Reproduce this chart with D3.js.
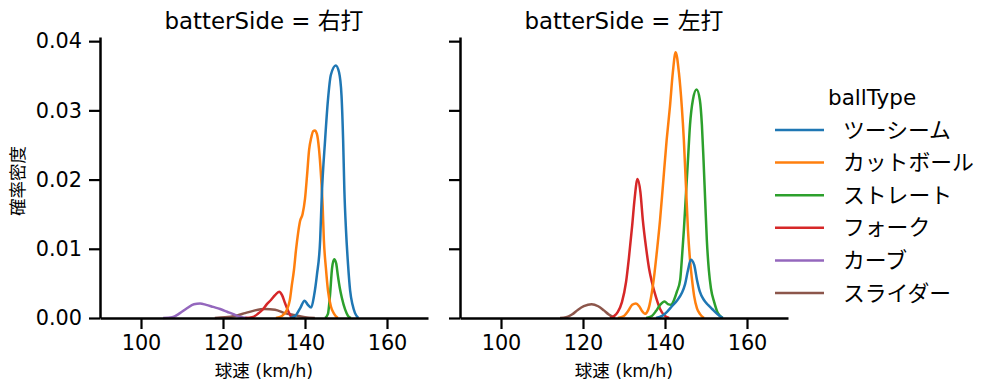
<!DOCTYPE html>
<html>
<head>
<meta charset="utf-8">
<title>球速の確率密度</title>
<script src="https://cdn.jsdelivr.net/npm/d3@7"></script>
<style>
  body { margin: 0; background: #fff; }
  text { font-family: "DejaVu Sans", "Noto Sans CJK JP", sans-serif; fill: #000; }
</style>
</head>
<body>
<script>
// categories
const ballTypes = ["ツーシーム", "カットボール", "ストレート", "フォーク", "カーブ", "スライダー"];
const palette = ["#1f77b4", "#ff7f0e", "#2ca02c", "#d62728", "#9467bd", "#8c564b"];
const sides = ["右打", "左打"];
const xTicks = [100, 120, 140, 160];
const yTicks = [0, 0.01, 0.02, 0.03, 0.04];

// [球速, 確率密度] — 右打
const migiTwoSeam = [[136.3,0],[137.6,0.0003],[138.8,0.0014],[139.9,0.0025],[140.7,0.0019],[141.5,0.0015],[142.2,0.0032],[142.9,0.0062],[143.7,0.0113],[144.1,0.0178],[144.9,0.0257],[145.6,0.0315],[146.3,0.0351],[147.5,0.0365],[148.3,0.0355],[148.9,0.0322],[149.3,0.0257],[149.6,0.0185],[150.0,0.0127],[150.5,0.0077],[151.0,0.0040],[151.6,0.0019],[152.2,0.0007],[153.0,0]];
const migiCutter = [[132.9,0],[134.4,0.0003],[135.6,0.0012],[136.3,0.0026],[136.8,0.0048],[137.3,0.0069],[137.8,0.0098],[138.3,0.0122],[138.8,0.0140],[139.4,0.0150],[140.0,0.0172],[140.5,0.0206],[141.0,0.0243],[141.5,0.0260],[142.0,0.0270],[142.4,0.0271],[142.9,0.0266],[143.4,0.0245],[143.9,0.0206],[144.3,0.0163],[144.6,0.0113],[145.1,0.0072],[145.6,0.0040],[146.3,0.0017],[147.1,0.0006],[148.0,0]];
const migiStraight = [[144.9,0],[145.6,0.0006],[146.1,0.0033],[146.6,0.0072],[147.1,0.0085],[147.6,0.0079],[148.0,0.0062],[148.5,0.0043],[149.0,0.0029],[149.8,0.0012],[150.5,0.0003],[151.2,0]];
const migiFork = [[125.4,0],[127.1,0.0001],[128.5,0.0006],[129.8,0.0013],[130.7,0.0020],[131.7,0.0026],[132.7,0.0033],[133.7,0.0038],[134.4,0.0033],[135.1,0.0022],[135.9,0.0010],[136.8,0.0001],[137.6,0]];
const migiCurve = [[105.4,0],[107.6,0.0001],[109.5,0.0007],[111.2,0.0014],[112.9,0.0020],[114.4,0.0021],[115.9,0.0019],[117.6,0.0016],[119.3,0.0013],[121.0,0.0009],[122.7,0.0005],[124.1,0.0002],[125.9,0]];
const migiSlider = [[118.0,0],[120.5,0.0001],[122.9,0.0003],[125.4,0.0007],[127.8,0.0011],[130.2,0.0013],[132.7,0.0012],[135.1,0.0007],[137.6,0.0004],[140.0,0.0001],[142.4,0]];

// 左打
const hidariTwoSeam = [[137.8,0],[139.3,0.0003],[140.5,0.0009],[141.7,0.0017],[142.9,0.0025],[144.1,0.0036],[144.9,0.0049],[145.6,0.0069],[146.3,0.0084],[147.1,0.0077],[147.8,0.0055],[148.5,0.0038],[149.5,0.0026],[150.5,0.0019],[151.5,0.0013],[152.7,0.0006],[154.1,0]];
const hidariCutter = [[128.5,0],[130.0,0.0003],[131.0,0.0010],[132.0,0.0019],[132.9,0.0021],[133.7,0.0017],[134.4,0.0010],[135.1,0.0006],[135.9,0.0012],[136.6,0.0030],[137.3,0.0058],[138.0,0.0095],[138.8,0.0142],[139.5,0.0192],[140.4,0.0257],[141.2,0.0305],[141.9,0.0354],[142.6,0.0384],[143.4,0.0354],[144.1,0.0305],[144.6,0.0257],[145.1,0.0192],[145.6,0.0127],[146.1,0.0084],[146.6,0.0055],[147.1,0.0032],[147.8,0.0014],[148.5,0.0006],[149.5,0]];
const hidariStraight = [[135.4,0],[136.8,0.0003],[137.8,0.0010],[138.8,0.0019],[139.9,0.0024],[140.7,0.0020],[141.5,0.0019],[142.2,0.0026],[142.9,0.0038],[143.7,0.0055],[144.1,0.0084],[144.6,0.0127],[145.1,0.0178],[145.6,0.0228],[146.1,0.0279],[146.8,0.0315],[147.7,0.0330],[148.5,0.0315],[149.0,0.0279],[149.4,0.0228],[149.8,0.0170],[150.2,0.0113],[150.7,0.0069],[151.2,0.0043],[152.0,0.0023],[152.9,0.0007],[154.1,0]];
const hidariFork = [[126.6,0],[127.6,0.0003],[128.5,0.0009],[129.5,0.0023],[130.5,0.0052],[131.2,0.0087],[132.0,0.0134],[132.6,0.0173],[133.3,0.0201],[134.0,0.0182],[134.6,0.0141],[135.4,0.0101],[136.1,0.0072],[136.8,0.0052],[137.8,0.0030],[138.8,0.0013],[139.8,0.0004],[141.0,0]];
const hidariSlider = [[114.4,0],[115.9,0.0001],[117.3,0.0005],[118.8,0.0012],[120.2,0.0017],[122.1,0.0020],[123.7,0.0017],[125.1,0.0011],[126.3,0.0005],[127.8,0]];

const panels = [
  { side: sides[0], left: 100, curves: [migiTwoSeam, migiCutter, migiStraight, migiFork, migiCurve, migiSlider] },
  { side: sides[1], left: 460, curves: [hidariTwoSeam, hidariCutter, hidariStraight, hidariFork, null, hidariSlider] }
];

const width = 997, height = 391;
const panelW = 328, plotTop = 37, plotBottom = 318;
const svg = d3.select("body").append("svg").attr("width", width).attr("height", height);

const y = d3.scaleLinear().domain([0, 0.0406]).range([plotBottom, plotTop]);

panels.forEach((p, pi) => {
  const x = d3.scaleLinear().domain([90, 170]).range([p.left, p.left + panelW]);
  const g = svg.append("g");

  // curves, last hue first so the first hue ends on top
  const line = d3.line().x(d => x(d[0])).y(d => y(d[1])).curve(d3.curveMonotoneX);
  for (let i = ballTypes.length - 1; i >= 0; i--) {
    if (!p.curves[i]) continue;
    g.append("path").datum(p.curves[i])
      .attr("d", line)
      .attr("fill", "none")
      .attr("stroke", palette[i])
      .attr("stroke-width", 2.5)
      .attr("stroke-linejoin", "round");
  }

  const xAxis = g.append("g").attr("transform", `translate(0,${plotBottom})`)
    .call(d3.axisBottom(x).tickValues(xTicks).tickSize(11).tickSizeOuter(0).tickPadding(6));
  const yAxis = g.append("g").attr("transform", `translate(${p.left},0)`)
    .call(d3.axisLeft(y).tickValues(yTicks).tickSize(11).tickSizeOuter(0).tickPadding(7)
      .tickFormat(pi === 0 ? d3.format(".2f") : ""));
  [xAxis, yAxis].forEach(a => {
    a.select(".domain").attr("stroke", "#000").attr("stroke-width", 2.5);
    a.selectAll(".tick line").attr("stroke", "#000").attr("stroke-width", 2.2);
    a.selectAll(".tick text").attr("font-size", "20.8px")
      .attr("font-family", '"DejaVu Sans", sans-serif').attr("fill", "#000");
  });

  g.append("text")
    .attr("x", p.left + panelW / 2).attr("y", 28.5)
    .attr("text-anchor", "middle").attr("font-size", "22.9px")
    .text(`batterSide = ${p.side}`);

  g.append("text")
    .attr("x", p.left + panelW / 2).attr("y", 377)
    .attr("text-anchor", "middle").attr("font-size", "17.5px")
    .text("球速 (km/h)");
});

svg.append("text")
  .attr("transform", "translate(24,181) rotate(-90)")
  .attr("text-anchor", "middle").attr("font-size", "17.5px")
  .text("確率密度");

// legend
const legend = svg.append("g");
legend.append("text").attr("x", 828).attr("y", 105).attr("font-size", "21.5px").text("ballType");
ballTypes.forEach((b, i) => {
  const ly = 130 + i * 32.6;
  legend.append("line").attr("x1", 775).attr("x2", 824).attr("y1", ly).attr("y2", ly)
    .attr("stroke", palette[i]).attr("stroke-width", 2.5);
  legend.append("text").attr("x", 843).attr("y", ly).attr("dy", "0.35em")
    .attr("font-size", "21.8px").text(b);
});
</script>
</body>
</html>
